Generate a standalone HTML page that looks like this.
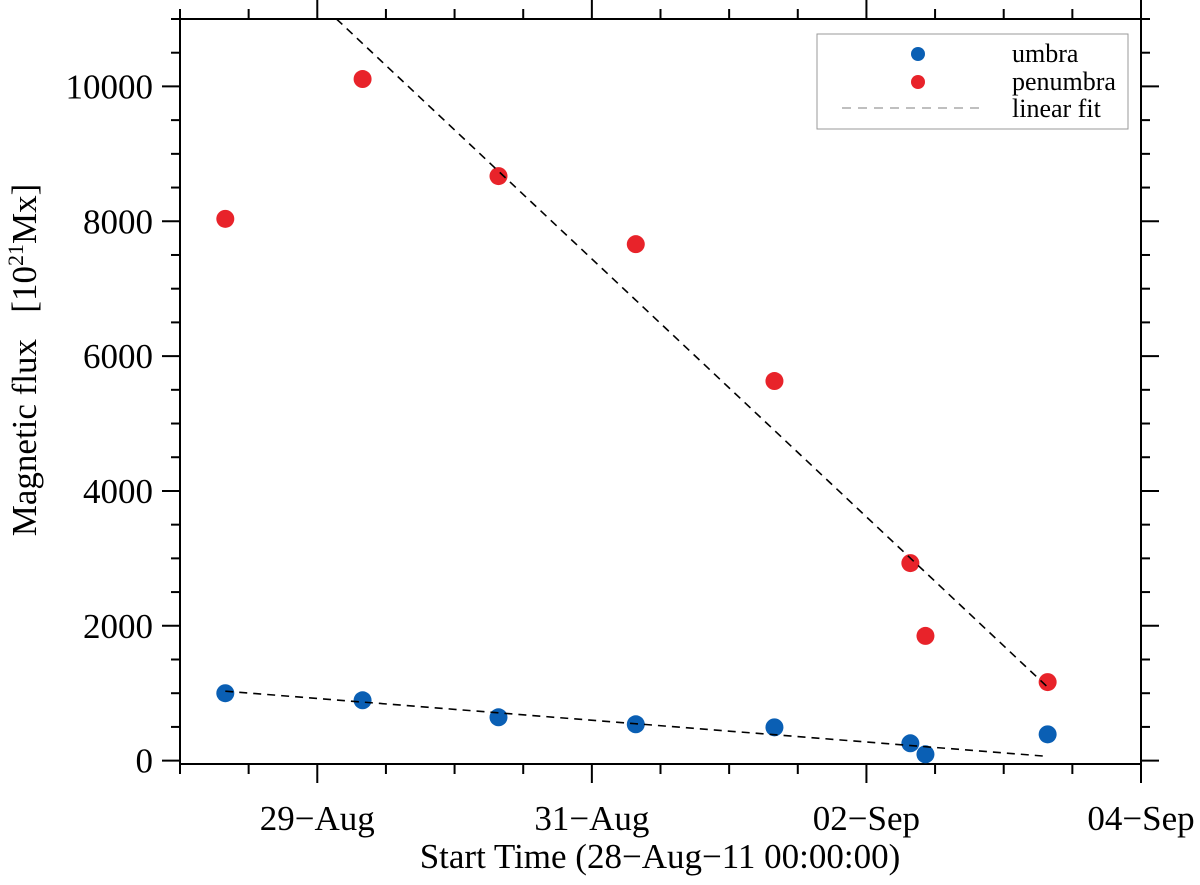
<!DOCTYPE html>
<html><head><meta charset="utf-8"><style>
body{margin:0;background:#fff}
svg text{font-family:"Liberation Serif",serif;fill:#000}
</style></head><body>
<svg width="1200" height="880" xmlns="http://www.w3.org/2000/svg">
<g id="axes"></g><g id="marks"></g>
<g>
<rect x="817" y="34" width="311" height="95" fill="#fff" stroke="#999" stroke-width="1"/>
<circle cx="918" cy="54" r="7" fill="#0a5fb4"/>
<text x="1012" y="62" font-size="26">umbra</text>
<circle cx="918" cy="82" r="7" fill="#e8232a"/>
<text x="1012" y="90" font-size="26">penumbra</text>
<line x1="842" y1="108" x2="986" y2="108" stroke="#aaa" stroke-width="1.5" stroke-dasharray="9,7"/>
<text x="1012" y="117" font-size="26">linear fit</text>
</g>
<text x="660" y="868" font-size="35" text-anchor="middle">Start Time (28−Aug−11 00:00:00)</text>
<text transform="translate(36,360) rotate(-90)" font-size="35" text-anchor="middle" xml:space="preserve">Magnetic flux   [10<tspan font-size="22" dy="-13">21</tspan><tspan dy="13">Mx]</tspan></text>
</svg>
<script>
const umbraDays=[0.33,1.33,2.32,3.32,4.33,5.32,5.43,6.32];
const umbraFlux=[1000,895,643,539,494,257,94,390];
const penDays=[0.33,1.33,2.32,3.32,4.33,5.32,5.43,6.32];
const penFlux=[8036,10110,8670,7660,5630,2930,1850,1165];
const penFitX=[1.14,6.32];const penFitY=[11000,1090];
const umbFitX=[0.33,6.32];const umbFitY=[1030,63];
const xTickDays=[1,3,5,7];
const xTickLabels=["29−Aug","31−Aug","02−Sep","04−Sep"];
const yTicks=[0,2000,4000,6000,8000,10000];
const L=180,R=1141,T=19,B=764,XMIN=0,XMAX=7,YMIN=-50,YMAX=11000;
const sx=d=>L+(d-XMIN)/(XMAX-XMIN)*(R-L);
const sy=v=>B-(v-YMIN)/(YMAX-YMIN)*(B-T);
const NS="http://www.w3.org/2000/svg";
const ax=document.getElementById('axes'),mk=document.getElementById('marks');
function el(p,t,a){const e=document.createElementNS(NS,t);for(const k in a)e.setAttribute(k,a[k]);p.appendChild(e);return e;}
const fr=el(ax,'rect',{x:L,y:T,width:R-L,height:B-T,fill:'none',stroke:'#000','stroke-width':2});


for(let d=0;d<=7.001;d+=0.5){const x=sx(d);const maj=xTickDays.some(m=>Math.abs(m-d)<1e-6);const len=maj?19:10;
el(ax,'line',{x1:x,y1:B,x2:x,y2:B+len,stroke:'#000','stroke-width':2});
el(ax,'line',{x1:x,y1:T,x2:x,y2:T-len,stroke:'#000','stroke-width':2});}
xTickDays.forEach((d,i)=>{const t=el(ax,'text',{x:sx(d),y:830,'font-size':35,'text-anchor':'middle'});t.textContent=xTickLabels[i];

});
for(let v=0;v<=11000;v+=500){const y=sy(v);const maj=yTicks.includes(v);const len=maj?18:9;
el(ax,'line',{x1:L,y1:y,x2:L-len,y2:y,stroke:'#000','stroke-width':2});
el(ax,'line',{x1:R,y1:y,x2:R+len,y2:y,stroke:'#000','stroke-width':2});}
yTicks.forEach(v=>{const t=el(ax,'text',{x:153,y:sy(v)+12,'font-size':35,'text-anchor':'end'});t.textContent=v;

});
const clip=el(mk,'clipPath',{id:'c'});el(clip,'rect',{x:L,y:T,width:R-L,height:B-T});
penDays.forEach((d,i)=>{const c=el(mk,'circle',{cx:sx(d),cy:sy(penFlux[i]),r:9,fill:'#e8232a'});

});
umbraDays.forEach((d,i)=>{const c=el(mk,'circle',{cx:sx(d),cy:sy(umbraFlux[i]),r:9,fill:'#0a5fb4'});

});
const f1=el(mk,'line',{x1:sx(penFitX[0]),y1:sy(penFitY[0]),x2:sx(penFitX[1]),y2:sy(penFitY[1]),stroke:'#000','stroke-width':1.6,'stroke-dasharray':'8,6','clip-path':'url(#c)'});


const f2=el(mk,'line',{x1:sx(umbFitX[0]),y1:sy(umbFitY[0]),x2:sx(umbFitX[1]),y2:sy(umbFitY[1]),stroke:'#000','stroke-width':1.6,'stroke-dasharray':'8,6'});


</script>
</body></html>
